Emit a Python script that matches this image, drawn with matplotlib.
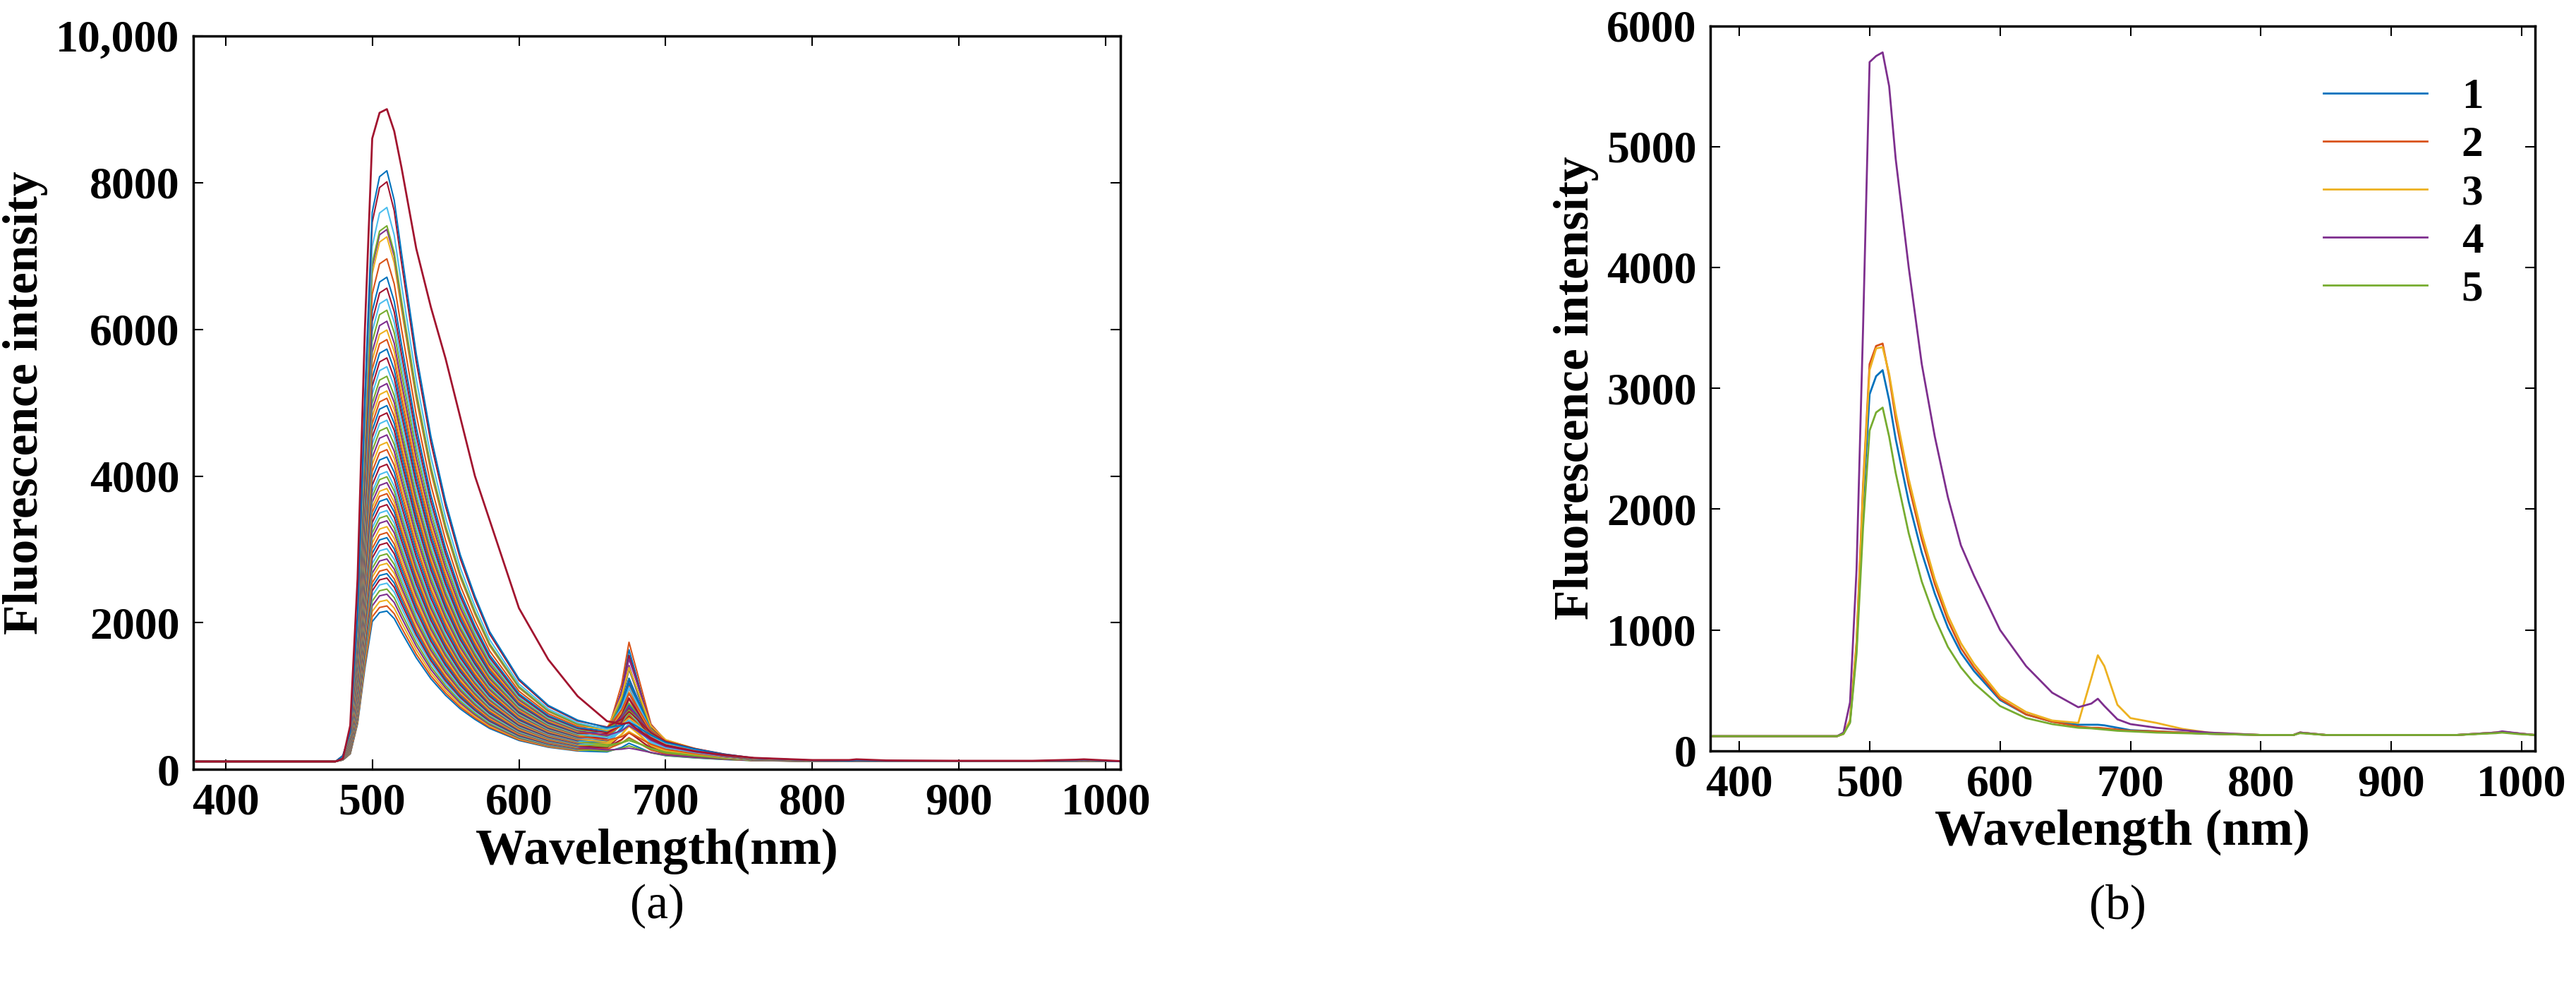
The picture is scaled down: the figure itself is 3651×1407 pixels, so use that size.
import matplotlib
matplotlib.use("Agg")
import matplotlib.pyplot as plt
import numpy as np
from matplotlib.ticker import FuncFormatter

# shared wavelength grid (nm)
wavelength = [380, 400, 450, 475, 480, 485, 490, 495, 500, 505, 510, 515, 520, 530, 540,
              550, 560, 570, 580, 600, 620, 640, 660, 670, 675, 680, 690, 700, 720, 740,
              760, 800, 825, 830, 850, 900, 950, 980, 985, 1000, 1010]

# panel (b) spectra
s1 = [120, 120, 120, 120, 140, 240, 850, 2050, 2950, 3100, 3150, 2900, 2580, 2060, 1640,
      1300, 1020, 810, 660, 420, 300, 240, 215, 215, 215, 210, 190, 170, 160, 150,
      140, 130, 130, 150, 130, 130, 130, 150, 155, 140, 130]
s2 = [120, 120, 120, 120, 140, 250, 900, 2200, 3200, 3350, 3370, 3100, 2750, 2200, 1750,
      1380, 1080, 850, 690, 430, 300, 240, 200, 190, 190, 185, 175, 165, 160, 150,
      140, 130, 130, 150, 130, 130, 130, 150, 155, 140, 130]
s3 = [120, 120, 120, 120, 140, 250, 880, 2150, 3150, 3330, 3340, 3120, 2800, 2250, 1800,
      1420, 1120, 890, 720, 450, 320, 250, 230, 600, 790, 700, 380, 270, 230, 180,
      150, 130, 130, 150, 130, 130, 130, 150, 155, 140, 130]
s4 = [120, 120, 120, 120, 150, 400, 1500, 3500, 5700, 5750, 5780, 5500, 4900, 4000, 3200,
      2600, 2100, 1700, 1450, 1000, 700, 480, 360, 390, 430, 370, 260, 220, 190, 170,
      150, 130, 130, 150, 130, 130, 130, 150, 160, 140, 130]
s5 = [120, 120, 120, 120, 140, 230, 800, 1850, 2650, 2800, 2840, 2600, 2300, 1800, 1400,
      1100, 860, 690, 560, 370, 270, 220, 190, 185, 180, 175, 165, 160, 150, 145,
      140, 130, 130, 145, 130, 130, 130, 145, 150, 135, 130]
series_b = [s1, s2, s3, s4, s5]
labels_b = ["1", "2", "3", "4", "5"]

# panel (a): common band shape (normalised), chlorophyll bump shape, and per-sample amplitudes
shape_a = [0, 0, 0, 0, 0.01, 0.05, 0.25, 0.62, 0.93, 0.99, 1.0, 0.95, 0.86, 0.69, 0.55,
           0.44, 0.35, 0.28, 0.22, 0.14, 0.095, 0.07, 0.055, 0.05, 0.048, 0.046, 0.04, 0.03,
           0.02, 0.012, 0.006, 0.002, 0.001, 0.002, 0.001, 0.001, 0.001, 0.002, 0.003, 0.001, 0]
bump_a = [0, 0, 0, 0, 0, 0, 0, 0, 0, 0, 0, 0, 0, 0, 0, 0, 0, 0, 0, 0, 0, 0, 0.12, 0.6, 1.0,
          0.75, 0.25, 0.12, 0.06, 0.02, 0, 0, 0, 0, 0, 0, 0, 0, 0, 0, 0]
peak_a = [2050, 2120, 2200, 2280, 2350, 2430, 2500, 2560, 2620, 2700, 2760, 2830, 2900,
          2980, 3050, 3120, 3200, 3280, 3350, 3420, 3500, 3580, 3650, 3720, 3800, 3880,
          3950, 4050, 4150, 4250, 4350, 4450, 4550, 4650, 4750, 4850, 4950, 5050, 5150,
          5250, 5380, 5500, 5620, 5750, 5880, 6000, 6150, 6300, 6450, 6600, 6850, 7150,
          7250, 7300, 7550, 7900, 8050]
chl_a = [150, 900, 300, 1200, 100, 600, 400, 1400, 200, 800, 50, 1000, 500, 250, 1300,
         700, 350, 1100, 150, 450, 950, 600, 1450, 300, 750, 100, 550, 1250, 400, 850,
         200, 650, 1050, 300, 500, 900, 150, 700, 1150, 400, 250, 600, 800, 350, 1000,
         200, 500, 700, 300, 450, 600, 250, 400, 350, 200, 300, 150]
# the single brightest (dark red) spectrum, broader than the rest
top_a = [110, 110, 110, 110, 150, 600, 2600, 6000, 8600, 8950, 9000, 8700, 8200, 7100, 6300,
         5600, 4800, 4000, 3400, 2200, 1500, 1000, 660, 620, 640, 560, 420, 330, 250, 200,
         160, 130, 130, 140, 125, 120, 120, 135, 140, 125, 115]

matlab = ["#0072BD", "#D95319", "#EDB120", "#7E2F8E", "#77AC30", "#4DBEEE", "#A2142F"]

plt.rcParams["font.family"] = ["Liberation Serif", "DejaVu Serif"]
plt.rcParams["font.weight"] = "bold"

fig = plt.figure(figsize=(36.51, 14.07), dpi=100)
ax1 = fig.add_axes([0.075, 0.225, 0.360, 0.739])
ax2 = fig.add_axes([0.664, 0.244, 0.320, 0.730])

w = np.array(wavelength)
base = 110
for i, (pk, ch) in enumerate(zip(peak_a, chl_a)):
    y = base + pk * np.array(shape_a) + ch * np.array(bump_a)
    ax1.plot(w, y, color=matlab[i % 7], lw=1.5)
ax1.plot(w, top_a, color="#A2142F", lw=2)

for s, lab, c in zip(series_b, labels_b, matlab[:5]):
    ax2.plot(w, s, color=c, lw=2, label=lab)

for ax in (ax1, ax2):
    ax.set_xlim(378, 1010)
    ax.set_xticks([400, 500, 600, 700, 800, 900, 1000])
    ax.tick_params(direction="in", length=10, width=1.5, top=True, right=True, labelsize=46, pad=14)
    for sp in ax.spines.values():
        sp.set_linewidth(2.5)
    ax.set_ylabel("Fluorescence intensity", fontsize=50, fontweight="bold", labelpad=8)

ax1.set_ylim(0, 10000)
ax1.set_yticks(range(0, 10001, 2000))
ax1.yaxis.set_major_formatter(FuncFormatter(lambda v, p: f"{int(v):,}" if v >= 10000 else f"{int(v)}"))
ax1.set_xlabel("Wavelength(nm)", fontsize=52, fontweight="bold")
ax2.set_ylim(0, 6000)
ax2.set_yticks(range(0, 6001, 1000))
ax2.set_xlabel("Wavelength (nm)", fontsize=52, fontweight="bold")

ax2.legend(loc="upper right", frameon=False, fontsize=44, handlelength=2.4, labelspacing=0.2,
           borderaxespad=0.8)

fig.text(0.255, 0.075, "(a)", ha="center", fontsize=50, fontweight="normal")
fig.text(0.822, 0.075, "(b)", ha="center", fontsize=50, fontweight="normal")

fig.savefig("out.png", dpi=100)
